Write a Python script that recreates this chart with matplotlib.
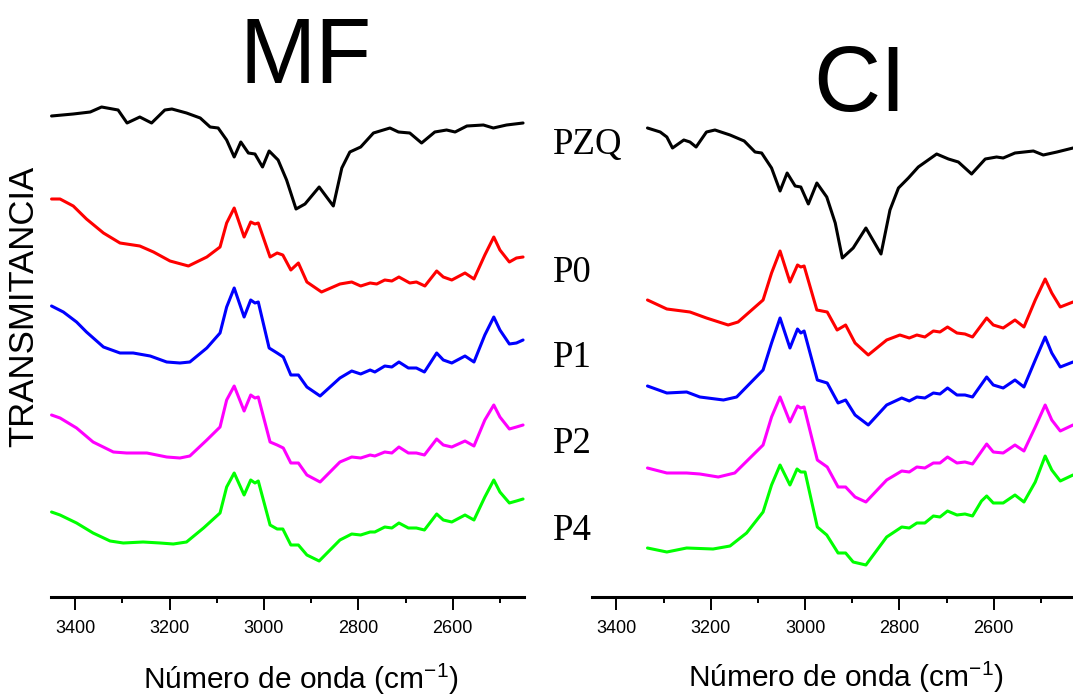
import matplotlib
matplotlib.use("Agg")
import matplotlib.pyplot as plt
from matplotlib import font_manager
from matplotlib.ticker import MultipleLocator

# pick a condensed sans if it is there
names = {f.name for f in font_manager.fontManager.ttflist}
narrow = "Liberation Sans Narrow" if "Liberation Sans Narrow" in names else "Liberation Sans"
plt.rcParams["mathtext.fontset"] = "custom"
plt.rcParams["mathtext.rm"] = narrow

# ---- MF panel (cm-1, transmittance in arbitrary offset units) ----
mf_pzq_wn = [3450, 3404, 3368, 3344, 3309, 3290, 3263, 3238, 3210, 3195, 3164, 3135, 3114, 3097,
             3079, 3063, 3049, 3033, 3019, 3003, 2989, 2970, 2952, 2932, 2913, 2883, 2853, 2835,
             2818, 2795, 2768, 2733, 2715, 2691, 2666, 2638, 2613, 2595, 2570, 2535, 2514, 2486, 2451]
mf_pzq_t = [48.1, 48.3, 48.5, 49.0, 48.7, 47.4, 48.0, 47.4, 48.7, 48.8, 48.4, 47.9, 47.0, 46.9,
            45.7, 44.0, 45.5, 44.4, 44.3, 43.0, 44.6, 43.7, 41.7, 38.8, 39.3, 41.0, 39.1, 42.9,
            44.5, 45.0, 46.4, 46.9, 46.5, 46.4, 45.4, 46.5, 46.7, 46.5, 47.1, 47.2, 46.9, 47.2, 47.4]

mf_p0_wn = [3450, 3432, 3404, 3376, 3340, 3305, 3263, 3234, 3199, 3160, 3121, 3093, 3079, 3063,
            3042, 3028, 3019, 3012, 2987, 2972, 2960, 2943, 2927, 2909, 2878, 2839, 2814, 2795,
            2775, 2761, 2744, 2729, 2714, 2691, 2677, 2659, 2634, 2620, 2602, 2574, 2555, 2532,
            2513, 2500, 2480, 2465, 2451]
mf_p0_t = [39.8, 39.8, 39.1, 37.8, 36.4, 35.4, 35.1, 34.5, 33.6, 33.1, 34.0, 35.0, 37.4, 38.9,
           36.0, 37.5, 37.3, 37.4, 34.0, 34.4, 34.2, 32.7, 33.4, 31.5, 30.5, 31.3, 31.5, 31.1,
           31.4, 31.3, 31.7, 31.6, 32.0, 31.4, 31.5, 31.1, 32.6, 32.0, 31.7, 32.4, 31.8, 34.2,
           36.0, 34.7, 33.5, 33.9, 34.0]

mf_p1_wn = [3450, 3425, 3397, 3376, 3340, 3305, 3277, 3241, 3206, 3178, 3157, 3121, 3093, 3079,
            3063, 3042, 3028, 3019, 3012, 2989, 2972, 2959, 2943, 2927, 2909, 2881, 2839, 2814,
            2795, 2775, 2765, 2744, 2729, 2714, 2694, 2677, 2660, 2634, 2620, 2602, 2574, 2555,
            2532, 2513, 2500, 2480, 2465, 2451]
mf_p1_t = [29.1, 28.5, 27.5, 26.5, 25.0, 24.4, 24.4, 24.1, 23.5, 23.4, 23.5, 24.9, 26.4, 29.0,
           30.9, 28.0, 29.7, 29.4, 29.5, 24.9, 24.4, 24.0, 22.2, 22.2, 21.0, 20.1, 21.9, 22.6,
           22.3, 22.7, 22.5, 23.1, 23.0, 23.5, 22.9, 22.9, 22.5, 24.4, 23.7, 23.4, 24.1, 23.5,
           26.2, 28.0, 26.7, 25.3, 25.4, 25.7]

mf_p2_wn = [3450, 3432, 3397, 3362, 3319, 3291, 3248, 3206, 3178, 3157, 3121, 3093, 3079, 3063,
            3042, 3028, 3019, 3012, 2987, 2972, 2959, 2943, 2927, 2909, 2881, 2839, 2814, 2795,
            2775, 2765, 2744, 2729, 2714, 2694, 2677, 2660, 2634, 2620, 2602, 2574, 2555, 2532,
            2513, 2500, 2480, 2465, 2451]
mf_p2_t = [18.2, 17.9, 16.9, 15.5, 14.5, 14.4, 14.4, 14.0, 13.9, 14.1, 15.7, 17.0, 19.7, 21.1,
           18.6, 20.2, 19.9, 20.0, 15.5, 15.2, 14.9, 13.4, 13.4, 12.2, 11.5, 13.5, 14.0, 13.9,
           14.2, 14.1, 14.5, 14.4, 15.0, 14.4, 14.4, 14.2, 15.8, 15.2, 15.0, 15.6, 15.1, 17.7,
           19.2, 18.0, 16.8, 17.0, 17.2]

mf_p4_wn = [3450, 3432, 3397, 3362, 3326, 3298, 3256, 3220, 3192, 3164, 3128, 3093, 3079, 3063,
            3042, 3028, 3019, 3012, 2987, 2972, 2960, 2943, 2927, 2909, 2883, 2839, 2814, 2795,
            2775, 2765, 2744, 2729, 2714, 2694, 2677, 2660, 2634, 2620, 2602, 2574, 2555, 2532,
            2513, 2500, 2480, 2465, 2451]
mf_p4_t = [8.5, 8.2, 7.4, 6.4, 5.6, 5.4, 5.5, 5.4, 5.3, 5.5, 6.9, 8.4, 11.0, 12.4,
           10.2, 11.7, 11.4, 11.6, 7.2, 6.8, 6.8, 5.2, 5.2, 4.2, 3.6, 5.7, 6.3, 6.2,
           6.5, 6.5, 7.0, 6.9, 7.4, 6.9, 6.9, 6.7, 8.3, 7.7, 7.5, 8.2, 7.7, 10.0,
           11.7, 10.5, 9.4, 9.6, 9.8]

# ---- CI panel ----
ci_pzq_wn = [3334, 3307, 3293, 3281, 3257, 3244, 3231, 3209, 3191, 3159, 3129, 3106, 3092, 3071,
             3053, 3038, 3021, 3009, 2993, 2975, 2954, 2936, 2921, 2898, 2871, 2839, 2820, 2802,
             2781, 2760, 2721, 2696, 2675, 2647, 2618, 2594, 2580, 2555, 2516, 2495, 2466, 2432]
ci_pzq_t = [46.9, 46.5, 46.0, 44.9, 45.7, 45.5, 45.0, 46.5, 46.7, 46.2, 45.6, 44.5, 44.4, 42.9,
            40.6, 42.4, 41.1, 41.0, 39.3, 41.4, 40.0, 37.4, 33.9, 34.9, 36.9, 34.3, 38.7, 40.9,
            41.9, 43.0, 44.3, 43.8, 43.5, 42.3, 43.8, 44.0, 43.9, 44.4, 44.6, 44.2, 44.5, 44.9]

ci_p0_wn = [3334, 3293, 3244, 3209, 3163, 3142, 3089, 3071, 3053, 3032, 3016, 3009, 3002, 2975,
            2953, 2932, 2914, 2894, 2866, 2827, 2799, 2779, 2763, 2746, 2728, 2714, 2698, 2678,
            2661, 2645, 2615, 2601, 2580, 2555, 2536, 2512, 2491, 2477, 2459, 2432]
ci_p0_t = [29.7, 28.8, 28.5, 27.9, 27.2, 27.5, 29.7, 32.4, 34.6, 31.5, 33.2, 33.0, 33.1, 28.7,
           28.5, 26.7, 27.2, 25.4, 24.2, 25.7, 26.2, 25.9, 26.2, 26.0, 26.6, 26.5, 27.0, 26.4,
           26.3, 26.0, 27.9, 27.2, 26.9, 27.7, 27.0, 29.7, 31.8, 30.4, 29.0, 29.5]

ci_p1_wn = [3334, 3293, 3251, 3223, 3173, 3145, 3089, 3071, 3053, 3032, 3016, 3009, 3002, 2974,
            2953, 2930, 2914, 2894, 2866, 2827, 2795, 2779, 2763, 2746, 2728, 2714, 2698, 2678,
            2661, 2645, 2615, 2601, 2580, 2555, 2536, 2512, 2491, 2477, 2459, 2432]
ci_p1_t = [21.1, 20.4, 20.5, 20.0, 19.7, 20.0, 22.7, 25.4, 27.9, 24.9, 26.8, 26.4, 26.6, 21.7,
           21.4, 19.4, 19.7, 18.2, 17.2, 19.2, 19.9, 19.6, 20.0, 19.9, 20.4, 20.3, 20.9, 20.2,
           20.2, 20.0, 22.0, 21.2, 20.9, 21.7, 21.0, 23.7, 26.0, 24.4, 23.0, 23.5]

ci_p2_wn = [3334, 3293, 3251, 3223, 3184, 3149, 3089, 3071, 3053, 3032, 3016, 3009, 3002, 2974,
            2953, 2930, 2914, 2894, 2871, 2827, 2795, 2779, 2763, 2746, 2728, 2714, 2698, 2678,
            2661, 2645, 2615, 2601, 2580, 2555, 2536, 2512, 2491, 2477, 2459, 2432]
ci_p2_t = [12.9, 12.4, 12.4, 12.3, 12.0, 12.4, 15.2, 18.0, 20.0, 17.5, 19.1, 18.9, 19.0, 13.7,
           13.0, 11.0, 11.0, 10.0, 9.5, 11.7, 12.6, 12.5, 13.0, 12.9, 13.4, 13.4, 14.0, 13.4,
           13.5, 13.3, 15.3, 14.5, 14.4, 15.2, 14.6, 17.0, 19.2, 17.7, 16.6, 17.2]

ci_p4_wn = [3334, 3293, 3251, 3195, 3159, 3124, 3089, 3071, 3053, 3032, 3017, 3009, 3000, 2974,
            2954, 2930, 2914, 2898, 2871, 2827, 2795, 2779, 2763, 2746, 2728, 2714, 2698, 2678,
            2661, 2645, 2626, 2615, 2601, 2580, 2555, 2536, 2512, 2491, 2477, 2459, 2432]
ci_p4_t = [4.9, 4.5, 4.9, 4.8, 5.1, 6.4, 8.5, 11.2, 13.2, 11.2, 12.8, 12.5, 12.5, 7.0,
           6.2, 4.4, 4.4, 3.5, 3.2, 6.0, 7.0, 6.9, 7.4, 7.4, 8.1, 8.0, 8.6, 8.2,
           8.3, 8.1, 9.6, 10.1, 9.4, 9.4, 10.2, 9.5, 11.5, 14.1, 12.7, 11.6, 12.2]

names_series = ["PZQ", "P0", "P1", "P2", "P4"]
colors = ["black", "#ff0000", "#0000ff", "#ff00ff", "#00ff00"]

W, H = 1073, 697
fig = plt.figure(figsize=(W / 100, H / 100), dpi=100)


def px(x, y):
    return x / W, 1 - y / H


ax1 = fig.add_axes([50.6 / W, 1 - 597 / H, (524 - 50.6) / W, 597 / H])
ax2 = fig.add_axes([592.3 / W, 1 - 597 / H, (1073 - 592.3) / W, 597 / H])

mf = [(mf_pzq_wn, mf_pzq_t), (mf_p0_wn, mf_p0_t), (mf_p1_wn, mf_p1_t),
      (mf_p2_wn, mf_p2_t), (mf_p4_wn, mf_p4_t)]
ci = [(ci_pzq_wn, ci_pzq_t), (ci_p0_wn, ci_p0_t), (ci_p1_wn, ci_p1_t),
      (ci_p2_wn, ci_p2_t), (ci_p4_wn, ci_p4_t)]

for ax, data, xl in [(ax1, mf, (3452, 2449)), (ax2, ci, (3451, 2432))]:
    for (wn, t), c in zip(data, colors):
        ax.plot(wn, t, color=c, lw=2.2, solid_joinstyle="round", solid_capstyle="round",
                clip_on=False)
    ax.set_xlim(*xl)
    ax.set_ylim(0, 59.7)
    for s in ["top", "right", "left"]:
        ax.spines[s].set_visible(False)
    ax.spines["bottom"].set_linewidth(2.2)
    ax.set_yticks([])
    ax.xaxis.set_major_locator(MultipleLocator(200))
    ax.xaxis.set_minor_locator(MultipleLocator(100))
    ax.tick_params(axis="x", which="major", direction="out", length=9.5, width=1.4, pad=7,
                   labelsize=13)
    ax.tick_params(axis="x", which="minor", direction="out", length=4.5, width=1.4)
    for lab in ax.get_xticklabels():
        lab.set_family(narrow)
    ax.patch.set_visible(False)

# titles and labels
fig.text(*px(305.5, 83), "MF", family="Liberation Sans", fontsize=66, ha="center", va="baseline")
fig.text(*px(860, 111), "CI", family="Liberation Sans", fontsize=67, ha="center", va="baseline")

label_base = [154, 281.7, 366.7, 452.7, 540]
for name, yb in zip(names_series, label_base):
    fig.text(*px(553, yb), name, family="Liberation Serif", fontsize=26.5, ha="left", va="baseline")

fig.text(*px(24, 306), "TRANSMITANCIA", family="Liberation Sans", fontsize=25, rotation=90,
         ha="center", va="center")

xlab = "Número de onda (cm$^{-1}$)"
fig.text(*px(301, 689), xlab, family=narrow, fontsize=21.5, ha="center", va="baseline")
fig.text(*px(846, 687), xlab, family=narrow, fontsize=21.5, ha="center", va="baseline")

fig.savefig("out.png", dpi=100)
